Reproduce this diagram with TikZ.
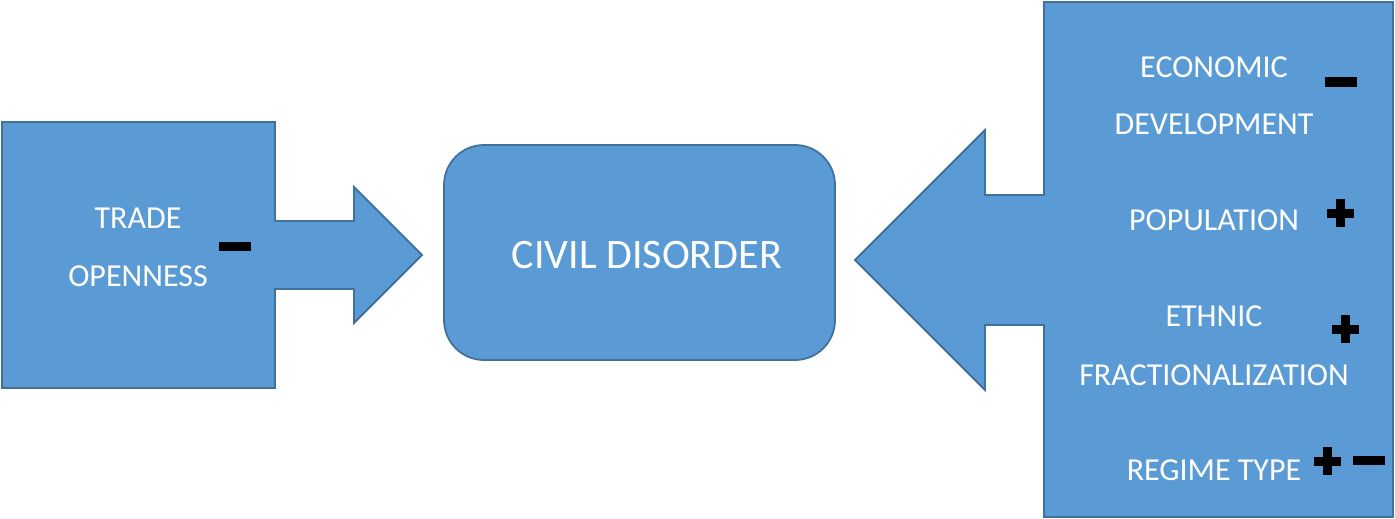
\documentclass[tikz,border=0pt]{standalone}
\usepackage{xcolor}
\usepackage{fontspec}
\setmainfont{Carlito}
\definecolor{boxblue}{HTML}{5B9BD5}
\definecolor{boxline}{HTML}{41719C}
\tikzset{
  shapebox/.style={fill=boxblue, draw=boxline, line width=1.8pt, line join=miter},
  minussign/.pic={\fill[black] (-16,-4.5) rectangle (16,4.5);},
  plussign/.pic={\fill[black] (-13.5,-4.5) rectangle (13.5,4.5);
                 \fill[black] (-4.5,-14) rectangle (4.5,14);}
}
\begin{document}
\begin{tikzpicture}[x=1pt, y=-1pt, every node/.style={text=white, inner sep=0pt, font=\fontsize{32}{36}\selectfont}]
    \useasboundingbox (0,0) rectangle (1395,519);

    % Left callout with right arrow
    \draw[shapebox] (2,122) -- (275,122) -- (275,221) -- (354,221) -- (354,187)
        -- (422,255) -- (354,323) -- (354,289) -- (275,289) -- (275,388) -- (2,388) -- cycle;

    % Central box
    \draw[shapebox, rounded corners=40pt] (444,145) rectangle (835,360);

    % Right callout with left arrow
    \draw[shapebox] (1044,2) -- (1393,2) -- (1393,517) -- (1044,517) -- (1044,325)
        -- (985,325) -- (985,390) -- (855,260) -- (985,130) -- (985,195) -- (1044,195) -- cycle;

    % Texts
    \node (Trade)    at (138,218) {TRADE};
    \node (Openness) at (138,276) {OPENNESS};
    \node (Civil) [font=\fontsize{42}{46}\selectfont] at (647,255) {CIVIL DISORDER};
    \node (Econ)     at (1214,67)  {ECONOMIC};
    \node (Devel)    at (1214,124) {DEVELOPMENT};
    \node (Popul)    at (1214,220) {POPULATION};
    \node (Ethnic)   at (1214,316) {ETHNIC};
    \node (Fract)    at (1214,375) {FRACTIONALIZATION};
    \node (Regime)   at (1214,470) {REGIME TYPE};

    % Signs
    \pic at (235,246) {minussign};
    \pic at (1341,82) {minussign};
    \pic at (1340,213) {plussign};
    \pic at (1345,329) {plussign};
    \pic at (1327,461) {plussign};
    \pic at (1369,460) {minussign};
\end{tikzpicture}
\end{document}
